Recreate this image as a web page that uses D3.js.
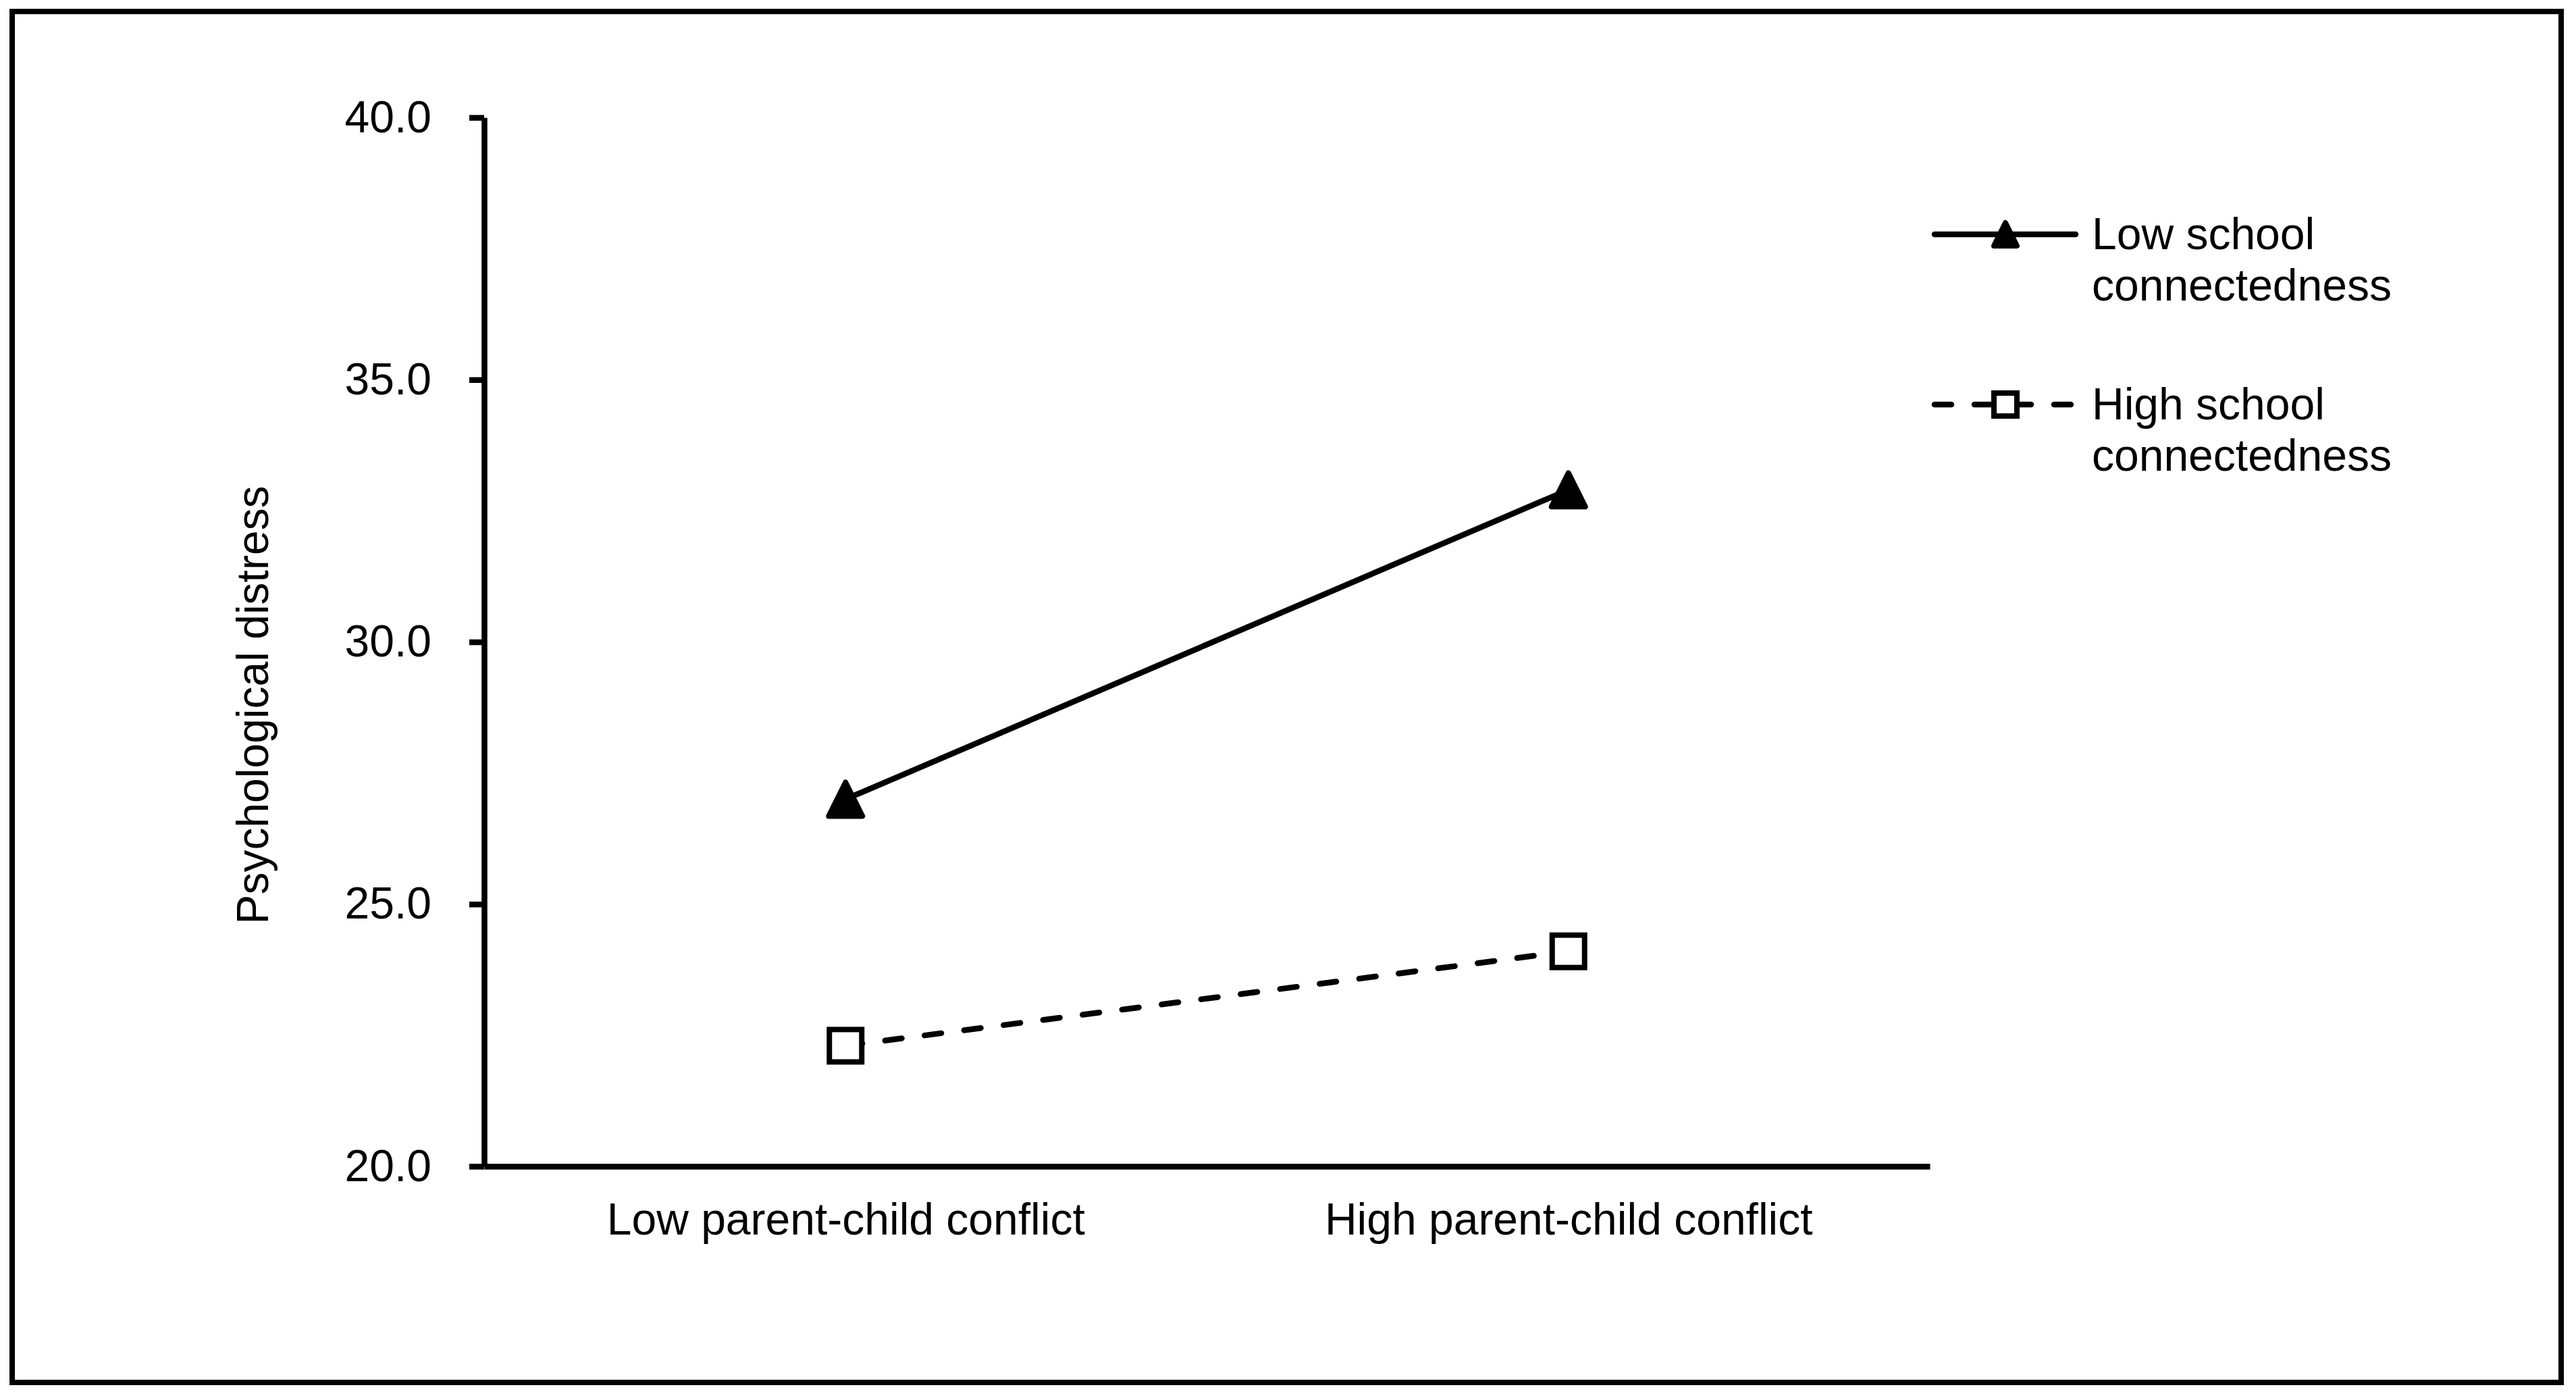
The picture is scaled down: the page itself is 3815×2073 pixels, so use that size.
<!DOCTYPE html>
<html>
<head>
<meta charset="utf-8">
<script src="https://cdn.jsdelivr.net/npm/d3@7"></script>
<style>
  body { margin: 0; background: #fff; }
  svg { display: block; }
  text { font-family: "Liberation Sans", Arial, sans-serif; fill: #000; }
</style>
</head>
<body>
<div id="chart"></div>
<script>
// data
const categories = ["Low parent-child conflict", "High parent-child conflict"];
const lowSchool = [27.0, 32.9];
const highSchool = [22.3, 24.1];
const yTicks = [20, 25, 30, 35, 40];
const legendLow = ["Low school", "connectedness"];
const legendHigh = ["High school", "connectedness"];

function main() {
    const W = 3815, H = 2073;
    const svg = d3.select("#chart").append("svg")
        .attr("width", W)
        .attr("height", H);

    // outer frame
    svg.append("rect")
        .attr("x", 18).attr("y", 17)
        .attr("width", 3775).attr("height", 2030)
        .attr("fill", "none")
        .attr("stroke", "#000")
        .attr("stroke-width", 8);

    // scales
    const x = d3.scalePoint().domain(categories).range([717, 2858]).padding(0.5);
    const y = d3.scaleLinear().domain([20, 40]).range([1727, 174]);

    // y axis
    const yAxis = svg.append("g")
        .attr("transform", "translate(717,0)")
        .call(d3.axisLeft(y).tickValues(yTicks).tickFormat(d3.format(".1f"))
            .tickSize(22).tickSizeOuter(0).tickPadding(56));
    yAxis.selectAll("path, line").attr("stroke", "#000").attr("stroke-width", 8.5);
    yAxis.selectAll("text").style("font-size", "66px").attr("fill", "#000");

    // x axis
    const xAxis = svg.append("g")
        .attr("transform", "translate(0,1727)")
        .call(d3.axisBottom(x).tickSize(0).tickSizeOuter(0));
    xAxis.select(".domain").attr("stroke", "#000").attr("stroke-width", 8.5);
    xAxis.selectAll("text")
        .attr("y", 101).attr("dy", "0")
        .style("font-size", "66px").attr("fill", "#000");

    // y axis title
    svg.append("text")
        .attr("transform", "translate(397,1044) rotate(-90)")
        .attr("text-anchor", "middle")
        .style("font-size", "66px")
        .text("Psychological distress");

    const line = d3.line()
        .x((d, i) => x(categories[i]))
        .y(d => y(d));

    // lines
    svg.append("path")
        .datum(highSchool)
        .attr("d", line)
        .attr("fill", "none")
        .attr("stroke", "#000")
        .attr("stroke-width", 8.5)
        .attr("stroke-linecap", "round")
        .attr("stroke-dasharray", "25,34");

    svg.append("path")
        .datum(lowSchool)
        .attr("d", line)
        .attr("fill", "none")
        .attr("stroke", "#000")
        .attr("stroke-width", 8.5);

    // markers
    const tri = s => `M0,${-s}L${s},${s}L${-s},${s}Z`;

    svg.selectAll(".tri")
        .data(lowSchool)
        .enter()
        .append("path")
        .attr("class", "tri")
        .attr("transform", (d, i) => `translate(${x(categories[i])},${y(d)})`)
        .attr("d", tri(25))
        .attr("fill", "#000")
        .attr("stroke", "#000")
        .attr("stroke-width", 8)
        .attr("stroke-linejoin", "round");

    svg.selectAll(".sq")
        .data(highSchool)
        .enter()
        .append("rect")
        .attr("class", "sq")
        .attr("x", (d, i) => x(categories[i]) - 24)
        .attr("y", d => y(d) - 24)
        .attr("width", 48)
        .attr("height", 48)
        .attr("fill", "#fff")
        .attr("stroke", "#000")
        .attr("stroke-width", 8);

    // legend
    const leg = svg.append("g");

    leg.append("line")
        .attr("x1", 2865).attr("x2", 3074)
        .attr("y1", 347).attr("y2", 347)
        .attr("stroke", "#000").attr("stroke-width", 8.5)
        .attr("stroke-linecap", "round");
    leg.append("path")
        .attr("transform", "translate(2970,347)")
        .attr("d", tri(17))
        .attr("fill", "#000")
        .attr("stroke", "#000")
        .attr("stroke-width", 8)
        .attr("stroke-linejoin", "round");

    leg.append("line")
        .attr("x1", 2865).attr("x2", 3074)
        .attr("y1", 599).attr("y2", 599)
        .attr("stroke", "#000").attr("stroke-width", 8.5)
        .attr("stroke-linecap", "round")
        .attr("stroke-dasharray", "25,34");
    leg.append("rect")
        .attr("x", 2970 - 17).attr("y", 599 - 17)
        .attr("width", 34).attr("height", 34)
        .attr("fill", "#fff")
        .attr("stroke", "#000")
        .attr("stroke-width", 8);

    leg.selectAll(".l1")
        .data(legendLow)
        .enter()
        .append("text")
        .attr("x", 3098)
        .attr("y", (d, i) => 369 + i * 76)
        .style("font-size", "66px")
        .text(d => d);

    leg.selectAll(".l2")
        .data(legendHigh)
        .enter()
        .append("text")
        .attr("x", 3098)
        .attr("y", (d, i) => 621 + i * 76)
        .style("font-size", "66px")
        .text(d => d);
}

main();
</script>
</body>
</html>
